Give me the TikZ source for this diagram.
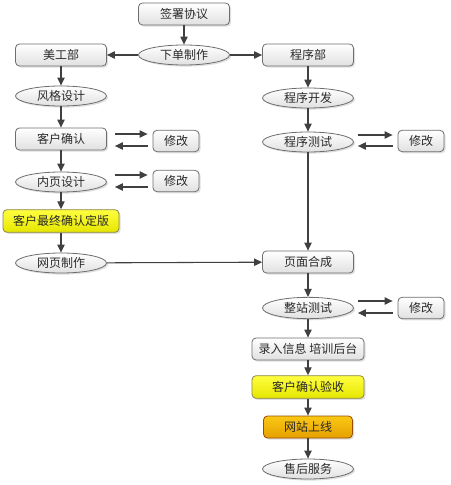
\documentclass[tikz,border=0pt]{standalone}
\usepackage{fontspec}
\setmainfont{Noto Sans CJK SC}
\usetikzlibrary{shapes.geometric,arrows.meta,shadows,calc}
\definecolor{bd}{HTML}{6E6E6E}
\definecolor{ln}{HTML}{404040}
\definecolor{tx}{HTML}{2A2A2A}
\begin{document}
\begin{tikzpicture}[x=0.75pt,y=-0.75pt,
  font=\fontsize{9pt}{11pt}\selectfont, text=tx,
  base/.style={draw=bd, line width=0.6pt, inner sep=0pt, align=center,
    drop shadow={opacity=0.25, shadow xshift=1.2pt, shadow yshift=-1.2pt}},
  box/.style={base, rounded corners=3pt, top color=white, bottom color=black!12,
    minimum width=68.25pt, minimum height=16.5pt},
  oval/.style={base, ellipse, top color=white, bottom color=black!12,
    minimum width=68.25pt, minimum height=15pt},
  fix/.style={base, rounded corners=3pt, top color=white, bottom color=black!12,
    minimum width=34.5pt, minimum height=16pt},
  ybox/.style={base, rounded corners=3pt, draw=black!40!yellow!80!black, top color=yellow!75!white, bottom color=yellow!90!black,
    minimum height=17pt},
  obox/.style={base, rounded corners=3pt, draw=orange!60!black, top color={rgb,255:red,250;green,200;blue,20}, bottom color={rgb,255:red,230;green,160;blue,0},
    minimum width=66.75pt, minimum height=16.5pt},
  arr/.style={draw=ln, line width=0.8pt, -{Triangle[length=6pt,width=5.5pt]}}]
\useasboundingbox (0,0) rectangle (450,485);
% nodes
\node[box] (qs) at (184,14) {签署协议};
\node[oval] (xd) at (184,55) {下单制作};
\node[box] (mg) at (61,55) {美工部};
\node[box] (cx) at (308,55) {程序部};
\node[oval] (fg) at (61,96) {风格设计};
\node[oval] (kf) at (308,98) {程序开发};
\node[box] (kq) at (61,139) {客户确认};
\node[fix] (m1) at (176,141) {修改};
\node[oval] (cs) at (308,142) {程序测试};
\node[fix] (m2) at (421,141) {修改};
\node[oval] (ny) at (61,182) {内页设计};
\node[fix] (m3) at (176,181) {修改};
\node[ybox, minimum width=87pt] (zd) at (61,221) {客户最终确认定版};
\node[oval] (wy) at (61,263) {网页制作};
\node[box] (hc) at (308,262) {页面合成};
\node[oval, minimum height=16pt] (zz) at (308,308) {整站测试};
\node[fix] (m4) at (421,308) {修改};
\node[box, minimum width=84pt] (lr) at (308,349) {录入信息 培训后台};
\node[ybox, minimum width=84pt] (ys) at (308,387) {客户确认验收};
\node[obox] (sx) at (308,427) {网站上线};
\node[oval] (sh) at (308,469) {售后服务};
% connectors
\draw[arr] (qs) -- (xd);
\draw[arr] (xd) -- (mg);
\draw[arr] (xd) -- (cx);
\draw[arr] (mg) -- (fg);
\draw[arr] (fg) -- (kq);
\draw[arr] (kq) -- (ny);
\draw[arr] (ny) -- (zd);
\draw[arr] (zd) -- (wy);
\draw[arr] (wy) -- (hc);
\draw[arr] (cx) -- (kf);
\draw[arr] (kf) -- (cs);
\draw[arr] (cs) -- (hc);
\draw[arr] (hc) -- (zz);
\draw[arr] (zz) -- (lr);
\draw[arr] (lr) -- (ys);
\draw[arr] (ys) -- (sx);
\draw[arr] (sx) -- (sh);
% modification loops
\draw[arr] ($(kq.east)+(8,-5)$) -- ($(m1.west)+(-5,-7)$);
\draw[arr] ($(m1.west)+(-5,5)$) -- ($(kq.east)+(8,7)$);
\draw[arr] ($(ny.east)+(8,-7)$) -- ($(m3.west)+(-5,-6)$);
\draw[arr] ($(m3.west)+(-5,6)$) -- ($(ny.east)+(8,5)$);
\draw[arr] ($(cs.east)+(4,-7)$) -- ($(m2.west)+(-5,-6)$);
\draw[arr] ($(m2.west)+(-5,5)$) -- ($(cs.east)+(4,4)$);
\draw[arr] ($(zz.east)+(4,-7)$) -- ($(m4.west)+(-5,-7)$);
\draw[arr] ($(m4.west)+(-5,5)$) -- ($(zz.east)+(4,5)$);
\end{tikzpicture}
\end{document}
